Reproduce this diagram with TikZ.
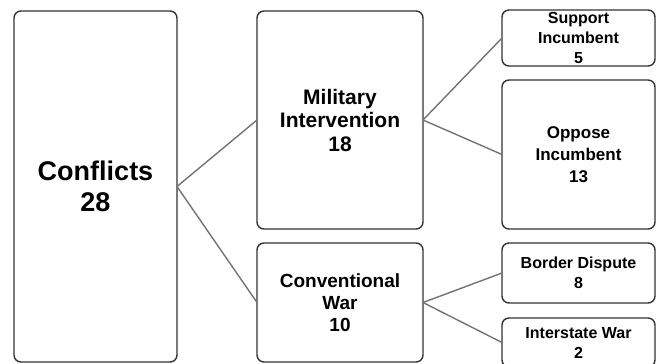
\documentclass[tikz,border=0pt]{standalone}
\usepackage{fontspec}
\setmainfont{Liberation Sans}
\usetikzlibrary{positioning}

\begin{document}
\begin{tikzpicture}[x=1pt,y=-1pt,
        box/.style={draw=black!80,line width=1.4pt,rounded corners=7pt,fill=white,align=center,inner sep=0pt,outer sep=0pt},
        big/.style={font=\bfseries\fontsize{27}{31}\selectfont},
        mid/.style={font=\bfseries\fontsize{21}{23.5}\selectfont},
        conv/.style={font=\bfseries\fontsize{19}{22}\selectfont},
        small/.style={font=\bfseries\fontsize{16}{20}\selectfont},
        link/.style={draw=black!55,line width=1.4pt}]
            \useasboundingbox (0,0) rectangle (656,364);
            % first column
            \node[box,big,minimum width=163pt,minimum height=351pt] (conf) at (95.5,186.5) {Conflicts\\28};
            % second column
            \node[box,mid,minimum width=166pt,minimum height=218pt] (mil) at (340,120) {Military\\Intervention\\18};
            \node[box,conv,minimum width=166pt,minimum height=119pt,below=14pt of mil] (conv) {Conventional\\War\\10};
            % third column
            \node[box,small,minimum width=153pt,minimum height=56pt] (sup) at (578.5,38) {Support\\Incumbent\\5};
            \node[box,small,font=\bfseries\fontsize{17}{22}\selectfont,minimum width=153pt,minimum height=149pt,below=14pt of sup] (opp) {Oppose\\Incumbent\\13};
            \node[box,small,minimum width=153pt,minimum height=60pt,below=14pt of opp] (bord) {Border Dispute\\8};
            \node[box,small,minimum width=153pt,minimum height=49pt,below=15pt of bord] (inter) {Interstate War\\2};
            \foreach \a/\b in {conf/mil,conf/conv,mil/sup,mil/opp,conv/bord,conv/inter}
                \draw[link] (\a.east) -- (\b.west);
        \end{tikzpicture}
\end{document}
